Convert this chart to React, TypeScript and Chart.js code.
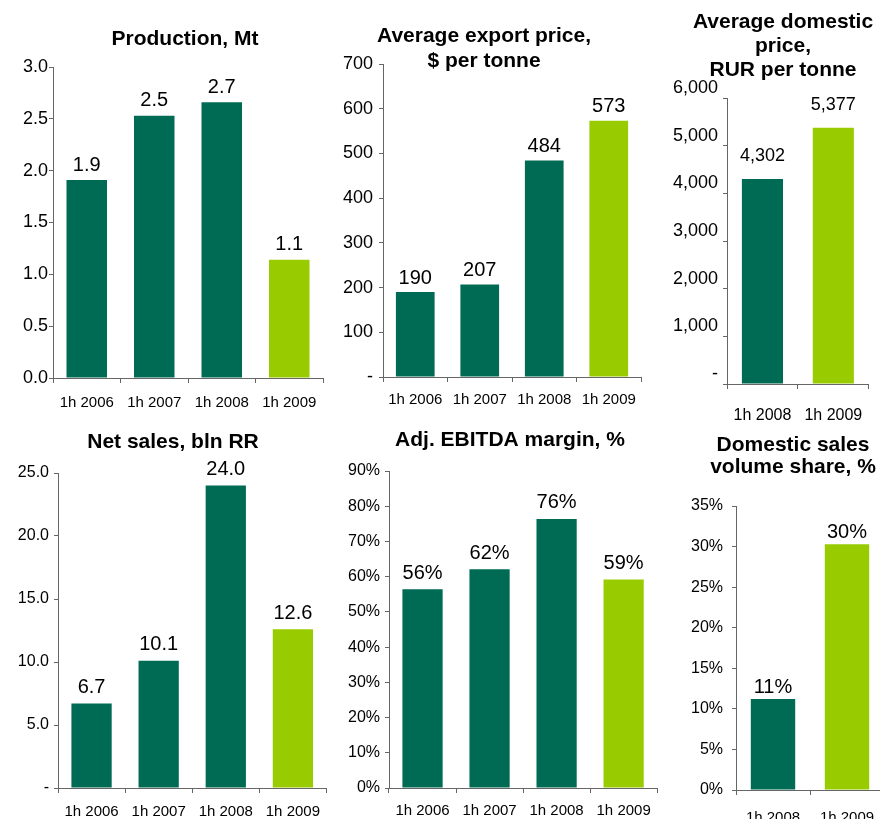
import React, { useEffect, useRef } from 'react';
import { Chart, registerables } from 'chart.js';

Chart.register(...registerables);

const DARK = '#006B54';
const LIGHT = '#99CC00';
const AXIS = '#666666';
const FONT = "'Liberation Sans', Arial, sans-serif";

// ---- data ----
const periods4 = ['1h 2006', '1h 2007', '1h 2008', '1h 2009'];
const periods2 = ['1h 2008', '1h 2009'];
const colors4 = [DARK, DARK, DARK, LIGHT];
const colors2 = [DARK, LIGHT];

const productionMt = [1.91, 2.53, 2.66, 1.14];
const exportPrice = [190, 207, 484, 573];
const domesticPrice = [4302, 5377];
const netSales = [6.7, 10.1, 24.0, 12.6];
const ebitdaMargin = [56.4, 62.1, 76.4, 59.2];
const domesticShare = [11.2, 30.3];

const titleProduction = ['Production, Mt'];
const titleExport = ['Average export price,', '$ per tonne'];
const titleDomestic = ['Average domestic', 'price,', 'RUR per tonne'];
const titleSales = ['Net sales, bln RR'];
const titleEbitda = ['Adj. EBITDA margin, %'];
const titleShare = ['Domestic sales', 'volume share, %'];

const fixed1 = (v: number) => v.toFixed(1);
const dash = (f: (v: number) => string) => (v: number) => (v === 0 ? '-' : f(v));
const thousands = (v: number) => Math.round(v).toLocaleString('en-US');
const pct = (v: number) => Math.round(v) + '%';

type Panel = {
  title: string[];
  labels: string[];
  values: number[];
  colors: string[];
  yMax: number;
  yStep: number;
  tickFmt: (v: number) => string;
  valueFmt: (v: number) => string;
  box: { x: number; y: number; w: number; h: number };
  area: { l: number; t: number; r: number; b: number };
  titleCx: number;
  titleY1: number;
  titleLH: number;
  titleSize: number;
  yFont: number;
  yPad: number;
  xFont: number;
  xPad: number;
  valFont: number;
  valGap: number;
  yLabelOffset: number;
  barPct: number;
};

const panels: Panel[] = [
  {
    title: titleProduction, labels: periods4, values: productionMt, colors: colors4,
    yMax: 3, yStep: 0.5, tickFmt: fixed1, valueFmt: fixed1,
    box: { x: 0, y: 0, w: 330, h: 420 }, area: { l: 53, t: 67, r: 323, b: 378 },
    titleCx: 185, titleY1: 39, titleLH: 24, titleSize: 21,
    yFont: 18, yPad: 1, xFont: 15, xPad: 11, valFont: 20, valGap: 15, yLabelOffset: 0, barPct: 0.6,
  },
  {
    title: titleExport, labels: periods4, values: exportPrice, colors: colors4,
    yMax: 700, yStep: 100, tickFmt: dash((v) => String(v)), valueFmt: (v) => String(Math.round(v)),
    box: { x: 320, y: 0, w: 330, h: 420 }, area: { l: 383, t: 64, r: 641, b: 377 },
    titleCx: 484, titleY1: 36, titleLH: 25, titleSize: 21,
    yFont: 18, yPad: 6, xFont: 15, xPad: 9, valFont: 20, valGap: 14, yLabelOffset: 0, barPct: 0.6,
  },
  {
    title: titleDomestic, labels: periods2, values: domesticPrice, colors: colors2,
    yMax: 6000, yStep: 1000, tickFmt: dash(thousands), valueFmt: thousands,
    box: { x: 650, y: 0, w: 230, h: 420 }, area: { l: 727, t: 98, r: 877, b: 384 },
    titleCx: 783, titleY1: 22, titleLH: 24, titleSize: 21,
    yFont: 18, yPad: 5, xFont: 16, xPad: 17, valFont: 18, valGap: 23, yLabelOffset: -10, barPct: 0.58,
  },
  {
    title: titleSales, labels: periods4, values: netSales, colors: colors4,
    yMax: 25, yStep: 5, tickFmt: dash(fixed1), valueFmt: fixed1,
    box: { x: 0, y: 420, w: 330, h: 399 }, area: { l: 58, t: 473, r: 330, b: 788 },
    titleCx: 173, titleY1: 442, titleLH: 24, titleSize: 21,
    yFont: 16, yPad: 5, xFont: 15, xPad: 10, valFont: 20, valGap: 16, yLabelOffset: 0, barPct: 0.6,
  },
  {
    title: titleEbitda, labels: periods4, values: ebitdaMargin, colors: colors4,
    yMax: 90, yStep: 10, tickFmt: pct, valueFmt: pct,
    box: { x: 330, y: 420, w: 330, h: 399 }, area: { l: 389, t: 471, r: 658, b: 788 },
    titleCx: 510, titleY1: 440, titleLH: 24, titleSize: 21,
    yFont: 16, yPad: 5, xFont: 15, xPad: 9, valFont: 20, valGap: 16, yLabelOffset: 0, barPct: 0.6,
  },
  {
    title: titleShare, labels: periods2, values: domesticShare, colors: colors2,
    yMax: 35, yStep: 5, tickFmt: pct, valueFmt: pct,
    box: { x: 660, y: 420, w: 230, h: 410 }, area: { l: 736, t: 506, r: 884, b: 790 },
    titleCx: 793, titleY1: 445, titleLH: 22, titleSize: 21,
    yFont: 16, yPad: 9, xFont: 15, xPad: 14, valFont: 20, valGap: 12, yLabelOffset: 0, barPct: 0.6,
  },
];

function BarPanel({ p }: { p: Panel }) {
  const ref = useRef<HTMLCanvasElement | null>(null);

  useEffect(() => {
    if (!ref.current) return;
    const { box, area } = p;
    const padR = box.w - (area.r - box.x);
    const padT = area.t - box.y;
    const yAxisW = area.l - box.x;
    const xAxisH = box.y + box.h - area.b;

    const panelTitle = {
      id: 'panelTitle',
      afterDraw(chart: any) {
        const ctx = chart.ctx;
        ctx.save();
        ctx.font = `bold ${p.titleSize}px ${FONT}`;
        ctx.fillStyle = '#000';
        ctx.textAlign = 'center';
        ctx.textBaseline = 'middle';
        p.title.forEach((line, i) => {
          ctx.fillText(line, p.titleCx - box.x, p.titleY1 - box.y + i * p.titleLH);
        });
        ctx.restore();
      },
    };

    const valueLabels = {
      id: 'valueLabels',
      afterDatasetsDraw(chart: any) {
        const ctx = chart.ctx;
        const meta = chart.getDatasetMeta(0);
        const data = chart.data.datasets[0].data as number[];
        ctx.save();
        ctx.font = `${p.valFont}px ${FONT}`;
        ctx.fillStyle = '#000';
        ctx.textAlign = 'center';
        ctx.textBaseline = 'middle';
        meta.data.forEach((bar: any, i: number) => {
          ctx.fillText(p.valueFmt(data[i]), bar.x, bar.y - p.valGap);
        });
        ctx.restore();
      },
    };

    const chart = new Chart(ref.current, {
      type: 'bar',
      data: {
        labels: p.labels,
        datasets: [
          {
            data: p.values,
            backgroundColor: p.colors,
            borderWidth: 0,
            categoryPercentage: 1,
            barPercentage: p.barPct,
          },
        ],
      },
      options: {
        animation: false,
        responsive: true,
        maintainAspectRatio: false,
        devicePixelRatio: 1,
        layout: { padding: { left: 0, right: padR, top: padT, bottom: 0 } },
        plugins: {
          legend: { display: false },
          tooltip: { enabled: false },
          title: { display: false },
        },
        scales: {
          x: {
            type: 'category',
            offset: true,
            grid: {
              display: true,
              offset: true,
              drawOnChartArea: false,
              drawTicks: true,
              tickLength: 5,
              color: AXIS,
            },
            border: { display: true, color: AXIS, width: 1 },
            ticks: {
              color: '#000',
              font: { family: FONT, size: p.xFont },
              padding: p.xPad,
              maxRotation: 0,
              minRotation: 0,
              autoSkip: false,
            },
            afterFit: (scale: any) => {
              scale.height = xAxisH;
            },
          },
          y: {
            min: 0,
            max: p.yMax,
            grid: {
              display: true,
              drawOnChartArea: false,
              drawTicks: true,
              tickLength: 4,
              color: AXIS,
            },
            border: { display: true, color: AXIS, width: 1 },
            ticks: {
              stepSize: p.yStep,
              color: '#000',
              font: { family: FONT, size: p.yFont },
              padding: p.yPad,
              labelOffset: p.yLabelOffset,
              callback: (v: any) => p.tickFmt(Number(v)),
            },
            afterFit: (scale: any) => {
              scale.width = yAxisW;
            },
          },
        },
      } as any,
      plugins: [valueLabels, panelTitle],
    });
    return () => chart.destroy();
  }, [p]);

  return (
    <div
      style={{
        position: 'absolute',
        left: p.box.x,
        top: p.box.y,
        width: p.box.w,
        height: p.box.h,
      }}
    >
      <canvas ref={ref} />
    </div>
  );
}

export default function App() {
  return (
    <div
      style={{
        position: 'absolute',
        left: 0,
        top: 0,
        width: 880,
        height: 819,
        overflow: 'hidden',
        background: '#fff',
      }}
    >
      {panels.map((p, i) => (
        <BarPanel key={i} p={p} />
      ))}
    </div>
  );
}
